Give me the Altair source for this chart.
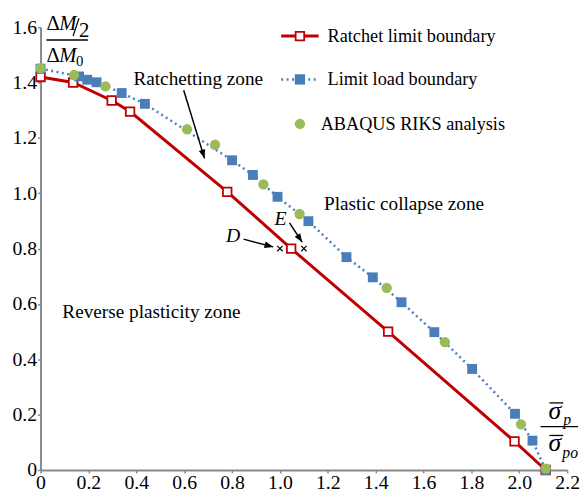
import math
import altair as alt
import pandas as pd

# ---------------- data ----------------
red_x = [0.0, 0.136, 0.297, 0.374, 0.78, 1.047, 1.452, 1.98, 2.11]
red_y = [1.42, 1.40, 1.335, 1.295, 1.005, 0.80, 0.50, 0.103, 0.0]

blue_x = [0.0, 0.161, 0.195, 0.234, 0.339, 0.436, 0.80, 0.887, 0.99, 1.119,
          1.278, 1.388, 1.508, 1.645, 1.803, 1.982, 2.055, 2.11]
blue_y = [1.45, 1.422, 1.41, 1.401, 1.362, 1.323, 1.119, 1.066, 0.987, 0.899,
          0.769, 0.696, 0.606, 0.498, 0.365, 0.203, 0.106, 0.0]

green_x = [0.0, 0.14, 0.271, 0.612, 0.729, 0.931, 1.082, 1.446, 1.689, 2.007, 2.11]
green_y = [1.452, 1.427, 1.386, 1.231, 1.175, 1.032, 0.925, 0.658, 0.462, 0.165, 0.005]

cross_x = [1.0, 1.1]
cross_y = [0.8, 0.8]

x_ticks = [0, 0.2, 0.4, 0.6, 0.8, 1.0, 1.2, 1.4, 1.6, 1.8, 2.0, 2.2]
y_ticks = [0, 0.2, 0.4, 0.6, 0.8, 1.0, 1.2, 1.4, 1.6]

zone_text = ["Ratchetting zone", "Plastic collapse zone", "Reverse plasticity zone"]
zone_x = [0.388, 1.184, 0.091]
zone_y = [1.411, 0.962, 0.570]

letter_text = ["D", "E"]
letter_x = [0.804, 1.002]
letter_y = [0.845, 0.905]

# arrows (start -> tip), data units
arrow_x1 = [0.598, 0.848, 1.040]
arrow_y1 = [1.372, 0.834, 0.893]
arrow_x2 = [0.685, 0.972, 1.093]
arrow_y2 = [1.126, 0.806, 0.823]

# ---------------- style ----------------
W, H = 534, 449
XMAX, YMAX = 2.2, 1.6
SERIF = "Liberation Serif, Times New Roman, DejaVu Serif, serif"
RED = "#C00000"
BLUE = "#4A7EBB"
GREEN = "#9BBB59"

xs = alt.Scale(domain=[0, XMAX], nice=False)
ys = alt.Scale(domain=[0, YMAX], nice=False)
lab = "datum.value == 0 ? '0' : format(datum.value, '.1f')"

xaxis = alt.Axis(values=x_ticks, labelExpr=lab, grid=False, title=None,
                 domainColor="#888888", domainWidth=2, tickColor="#888888",
                 tickSize=3, tickWidth=1.5, labelPadding=0, labelFont=SERIF,
                 labelFontSize=20, labelColor="black", labelFlush=False,
                 labelOverlap=False)
yaxis = alt.Axis(values=y_ticks, labelExpr=lab, grid=False, title=None,
                 domainColor="#888888", domainWidth=2, tickColor="#888888",
                 tickSize=3, tickWidth=1.5, labelPadding=1, labelFont=SERIF,
                 labelFontSize=20, labelColor="black", labelFlush=False,
                 labelOverlap=False)

red = pd.DataFrame({"x": red_x, "y": red_y})
blue = pd.DataFrame({"x": blue_x, "y": blue_y})
green = pd.DataFrame({"x": green_x, "y": green_y})

enc = dict(x=alt.X("x:Q", scale=xs, axis=xaxis), y=alt.Y("y:Q", scale=ys, axis=yaxis))
enc2 = dict(x=alt.X("x:Q", scale=xs), y=alt.Y("y:Q", scale=ys))

red_line = alt.Chart(red).mark_line(color=RED, strokeWidth=3).encode(**enc)
red_pts = alt.Chart(red).mark_point(shape="square", filled=True, fill="white",
                                    stroke=RED, strokeWidth=1.8, size=75, opacity=1).encode(**enc2)
blue_line = alt.Chart(blue).mark_line(color=BLUE, strokeWidth=2.5, strokeDash=[2, 3.5]).encode(**enc2)
blue_pts = alt.Chart(blue).mark_point(shape="square", filled=True, color=BLUE,
                                      size=100, opacity=1).encode(**enc2)
green_pts = alt.Chart(green).mark_point(shape="circle", filled=True, color=GREEN,
                                        size=110, opacity=1).encode(**enc2)

crosses = alt.Chart(pd.DataFrame({"x": cross_x, "y": cross_y})).mark_point(
    shape="M-1,-1L1,1M-1,1L1,-1", filled=False, color="black", strokeWidth=1.2,
    size=30, opacity=1).encode(**enc2)

zones = alt.Chart(pd.DataFrame({"x": zone_x, "y": zone_y, "t": zone_text})).mark_text(
    align="left", baseline="middle", font=SERIF, fontSize=19.5, color="black").encode(
    text="t:N", **enc2)

letters = alt.Chart(pd.DataFrame({"x": letter_x, "y": letter_y, "t": letter_text})).mark_text(
    align="center", baseline="middle", font=SERIF, fontSize=20, fontStyle="italic",
    color="black").encode(text="t:N", **enc2)

kx, ky = W / XMAX, H / YMAX
angles = []
for a, b, c, d in zip(arrow_x1, arrow_y1, arrow_x2, arrow_y2):
    dx = (c - a) * kx
    dy = -(d - b) * ky
    angles.append(math.degrees(math.atan2(dx, -dy)) % 360)
arr = pd.DataFrame({"x": arrow_x1, "y": arrow_y1, "x2": arrow_x2, "y2": arrow_y2, "a": angles})
arrow_lines = alt.Chart(arr).mark_rule(color="black", strokeWidth=1.5).encode(
    x=alt.X("x:Q", scale=xs), y=alt.Y("y:Q", scale=ys), x2="x2:Q", y2="y2:Q")
arrow_heads = alt.Chart(arr).mark_point(shape="M0,0L-0.8,2.1L0.8,2.1Z", filled=True,
                                        color="black", size=70, opacity=1).encode(
    x=alt.X("x2:Q", scale=xs), y=alt.Y("y2:Q", scale=ys), angle=alt.Angle("a:Q", scale=None))

one = pd.DataFrame({"k": [0]})


def ptext(text, x, y, size, style="normal", align="left"):
    return alt.Chart(pd.DataFrame({"t": [text]})).mark_text(
        align=align, baseline="middle", font=SERIF, fontSize=size, fontStyle=style,
        color="black").encode(x=alt.value(x), y=alt.value(y), text="t:N")


def prule(x1, y1, x2, y2, color="black", width=1.5, dash=None):
    kw = dict(color=color, strokeWidth=width)
    if dash:
        kw["strokeDash"] = dash
    return alt.Chart(one).mark_rule(**kw).encode(
        x=alt.value(x1), y=alt.value(y1), x2=alt.value(x2), y2=alt.value(y2))


def ppoint(x, y, **kw):
    return alt.Chart(one).mark_point(opacity=1, **kw).encode(x=alt.value(x), y=alt.value(y))


# legend (pixel positions relative to plot area)
legend = [
    prule(244, 9, 282, 9, color=RED, width=3),
    ppoint(263, 9, shape="square", filled=True, fill="white", stroke=RED, strokeWidth=1.8, size=75),
    ptext("Ratchet limit boundary", 291, 9, 18.5),
    prule(244, 53, 281, 53, color=BLUE, width=2.5, dash=[2, 3.5]),
    ppoint(263, 53, shape="square", filled=True, color=BLUE, size=110),
    ptext("Limit load boundary", 291, 53, 18.5),
    ppoint(263, 98, shape="circle", filled=True, color=GREEN, size=110),
    ptext("ABAQUS RIKS analysis", 284, 98, 18.5),
]

# y-axis title: (ΔM/2) / ΔM0
ytitle = [
    ptext("Δ", 6, -3, 21),
    ptext("M", 19, -3, 21, style="italic"),
    prule(33, 9, 39, -9, width=1.2),
    ptext("2", 39, 4, 21),
    prule(6, 13, 48, 13, width=1.3),
    ptext("Δ", 6, 29, 21),
    ptext("M", 19, 29, 21, style="italic"),
    ptext("0", 36, 34, 15),
]

# x-axis title: σp / σpo (with overbars)
xtitle = [
    ptext("σ", 515, 389, 26, style="italic"),
    prule(516, 381, 530, 381, width=1.3),
    ptext("p", 530, 398, 16, style="italic"),
    prule(507, 405, 545, 405, width=1.3),
    ptext("σ", 515, 422, 26, style="italic"),
    prule(516, 414, 530, 414, width=1.3),
    ptext("po", 529, 432, 16, style="italic"),
]

chart = alt.layer(
    red_line, red_pts, blue_line, blue_pts, green_pts, crosses,
    arrow_lines, arrow_heads, zones, letters, *legend, *ytitle, *xtitle
).properties(
    width=W, height=H, autosize="none",
    padding={"left": 33, "top": 16, "right": 13, "bottom": 26},
    background="white",
).configure_view(strokeWidth=0)

chart.save("out.html", embed_options={"renderer": "svg", "actions": False})
